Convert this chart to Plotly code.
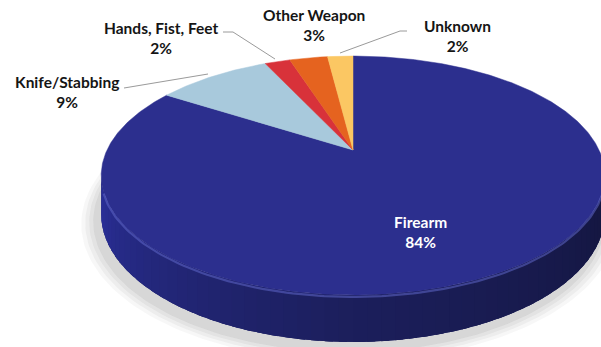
import numpy as np
import plotly.graph_objects as go

# Weapon type share of homicides (percent)
categories = ["Firearm", "Knife/Stabbing", "Hands, Fist, Feet", "Other Weapon", "Unknown"]
values = [84, 9, 2, 3, 2]
colors = ["#2c2f8e", "#a8c9dc", "#d8323a", "#e5631f", "#fbc763"]

W, H = 601, 347
# perspective pie geometry (pixels)
CX, CY = 353, 150      # centre of the top face
A, B = 246, 114        # horizontal / vertical radii before perspective
K = 0.2135             # perspective shrink of the far side
DEPTH = 37             # thickness of the disc


def proj(theta_deg, drop=0.0, scale=1.0):
    t = np.radians(theta_deg)
    u, v = np.sin(t) * scale, np.cos(t) * scale
    den = 1 + K * v
    return CX + A * u / den, CY + (-B * v + drop) / den


fig = go.Figure()

# soft shadow under the disc
for grow, op in [(1.06, 0.04), (1.045, 0.05), (1.03, 0.06), (1.015, 0.07)]:
    th = np.linspace(0, 360, 241)
    xs, ys = proj(th, DEPTH + 4, grow)
    fig.add_trace(go.Scatter(x=xs - 4, y=ys + 2, mode="lines", fill="toself",
                             fillcolor=f"rgba(60,60,60,{op})", line=dict(width=0),
                             hoverinfo="skip", showlegend=False))

# base colour of the side wall, then shaded overlapping bands on top
th_all = np.linspace(257.7, 102.3, 200)
xa, ya = proj(th_all)
xb, yb = proj(th_all[::-1], DEPTH)
fig.add_trace(go.Scatter(x=np.concatenate([xa, xb]), y=np.concatenate([ya, yb]),
                         mode="lines", fill="toself", fillcolor="rgb(30,33,96)",
                         line=dict(width=0), hoverinfo="skip", showlegend=False))

left_rgb = np.array([44, 49, 158])
mid_rgb = np.array([28, 31, 92])
right_rgb = np.array([20, 22, 62])
edges = np.linspace(257.7, 102.3, 61)
for i in range(len(edges) - 1):
    a = edges[i]
    b = max(edges[i + 1] - 1.5, 102.3)  # overlap into the next band
    f = i / (len(edges) - 2)
    if f < 0.5:
        c = left_rgb + (mid_rgb - left_rgb) * (f / 0.5) ** 0.8
    else:
        c = mid_rgb + (right_rgb - mid_rgb) * ((f - 0.5) / 0.5)
    th = np.linspace(a, b, 6)
    x1, y1 = proj(th)
    x2, y2 = proj(th[::-1], DEPTH)
    col = "rgb(%d,%d,%d)" % tuple(c.astype(int))
    fig.add_trace(go.Scatter(x=np.concatenate([x1, x2]), y=np.concatenate([y1, y2]),
                             mode="lines", fill="toself", fillcolor=col,
                             line=dict(width=0),
                             hoverinfo="skip", showlegend=False))

# top face slices, clockwise from 12 o'clock
total = sum(values)
start = 0.0
for name, val, col in zip(categories, values, colors):
    span = 360.0 * val / total
    th = np.linspace(start, start + span, max(int(span * 2), 4))
    xs, ys = proj(th)
    xs = np.concatenate([[CX], xs, [CX]])
    ys = np.concatenate([[CY], ys, [CY]])
    fig.add_trace(go.Scatter(x=xs, y=ys, mode="lines", fill="toself", fillcolor=col,
                             line=dict(width=0.5, color=col), name=name,
                             hoverinfo="name", showlegend=False))
    start += span

# light rim along the front edge of the top face
th_rim = np.linspace(250, 110, 120)
xr, yr = proj(th_rim, 1.5)
fig.add_trace(go.Scatter(x=xr, y=yr, mode="lines",
                         line=dict(width=2.2, color="rgba(95,102,200,0.55)"),
                         hoverinfo="skip", showlegend=False))

# leader lines
leaders = [
    ([124, 208], [88, 74]),
    ([223, 233, 275], [32, 32, 59]),
    ([407, 400, 340], [31, 31, 53]),
]
for lx, ly in leaders:
    fig.add_trace(go.Scatter(x=lx, y=ly, mode="lines",
                             line=dict(width=1, color="#9a9a9a"),
                             hoverinfo="skip", showlegend=False))

# data labels
label_pos = {
    "Firearm": (420, 232),
    "Knife/Stabbing": (67, 92),
    "Hands, Fist, Feet": (161, 38),
    "Other Weapon": (314, 25),
    "Unknown": (457, 36),
}
for name, val in zip(categories, values):
    x, y = label_pos[name]
    fc = "white" if name == "Firearm" else "#151515"
    fig.add_annotation(x=x, y=y, text=f"<b>{name}</b><br><b>{val}%</b>", showarrow=False,
                       font=dict(family="Lato, Open Sans, sans-serif", size=15.5, color=fc),
                       align="center", xanchor="center", yanchor="middle")

fig.update_layout(
    width=W, height=H,
    margin=dict(l=0, r=0, t=0, b=0),
    paper_bgcolor="white", plot_bgcolor="white",
    xaxis=dict(range=[0, W], visible=False, fixedrange=True),
    yaxis=dict(range=[H, 0], visible=False, fixedrange=True),
    showlegend=False,
)
fig.write_html("out.html")
